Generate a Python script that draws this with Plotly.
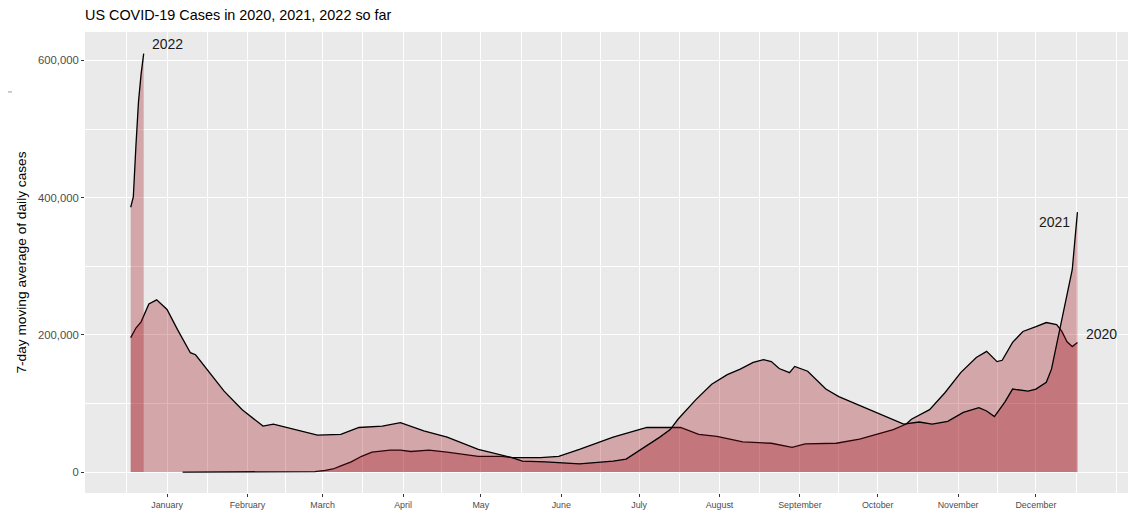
import plotly.graph_objects as go
import pandas as pd

# --- data (7-day moving average of daily cases) ---
# dates are month-day, plotted on a common 2020 calendar axis
dates_2020 = ["01-21", "02-15", "03-05", "03-12", "03-16", "03-19", "03-22", "03-26",
              "03-30", "04-03", "04-10", "04-14", "04-18", "04-25", "05-02", "05-14",
              "05-23", "05-27", "06-07", "06-14", "06-22", "07-05", "07-15", "07-18",
              "07-26", "07-31", "08-07", "08-14", "08-24", "09-04", "09-12", "09-17",
              "09-29", "10-08", "10-21", "10-26", "10-28", "11-04", "11-10", "11-16",
              "11-22", "11-26", "11-30", "12-02", "12-06", "12-10", "12-15", "12-19",
              "12-23", "12-25", "12-27", "12-29", "12-31"]
cases_2020 = [0, 0, 150, 800, 2500, 4500, 9000, 15000,
              23000, 29000, 32000, 32000, 30000, 32000, 29000, 23000,
              23000, 21000, 21000, 23000, 33000, 51000, 62000, 65000,
              65000, 65000, 55000, 52000, 44000, 42000, 36000, 41000,
              42000, 48000, 62000, 70000, 77000, 91000, 116000, 145000,
              167000, 176000, 161000, 163000, 189000, 205000, 212000, 218000,
              215000, 205000, 190000, 183000, 189000]

dates_2021 = ["01-01", "01-03", "01-05", "01-08", "01-11", "01-15", "01-19", "01-24",
              "01-26", "01-31", "02-06", "02-13", "02-21", "02-25", "03-01", "03-13",
              "03-22", "03-29", "04-07", "04-14", "04-23", "05-02", "05-14", "05-27",
              "05-31", "06-09", "06-22", "07-05", "07-10", "07-15", "07-23", "07-27",
              "07-30", "08-06", "08-12", "08-18", "08-23", "08-28", "09-01", "09-04",
              "09-07", "09-11", "09-13", "09-18", "09-25", "09-30", "10-09", "10-16",
              "10-25", "10-31", "11-05", "11-11", "11-17", "11-23", "11-26", "11-29",
              "12-03", "12-06", "12-12", "12-15", "12-19", "12-21", "12-24", "12-26",
              "12-29", "12-31"]
cases_2021 = [196000, 210000, 219000, 245000, 251000, 237000, 208000, 174000,
              171000, 147000, 118000, 91000, 67000, 70000, 65000, 54000,
              55000, 65000, 67000, 72000, 60000, 51000, 33000, 21000,
              16000, 15000, 12000, 16000, 19000, 31000, 51000, 62000,
              77000, 106000, 128000, 142000, 150000, 160000, 164000, 161000,
              151000, 145000, 154000, 147000, 121000, 110000, 96000, 84000,
              70000, 73000, 70000, 74000, 87000, 94000, 89000, 81000,
              102000, 121000, 118000, 121000, 131000, 150000, 203000, 237000,
              295000, 379000]

dates_2022 = ["01-01", "01-02", "01-03", "01-04", "01-05", "01-06"]
cases_2022 = [386000, 401000, 475000, 540000, 580000, 610000]

month_names = ["January", "February", "March", "April", "May", "June", "July",
               "August", "September", "October", "November", "December"]

FILL = "rgba(158,10,20,0.3)"

# the page body adds an 8px offset, so the figure is drawn slightly smaller
W, H = 1131, 504


def on_axis(md):
    return ["2020-" + d for d in md]


fig = go.Figure()
for name, d, v in [("2020", dates_2020, cases_2020),
                   ("2021", dates_2021, cases_2021),
                   ("2022", dates_2022, cases_2022)]:
    fig.add_trace(go.Scatter(x=on_axis(d), y=v, mode="lines", name=name,
                             fill="tozeroy", fillcolor=FILL,
                             line=dict(color="black", width=1.3)))

# month ticks sit mid-month, minor grid halfway between them
major = pd.to_datetime([f"2020-{m:02d}-15" for m in range(1, 13)])
ext = [pd.Timestamp("2019-12-15")] + list(major) + [pd.Timestamp("2021-01-15")]
minor = [ext[i] + (ext[i + 1] - ext[i]) / 2 for i in range(len(ext) - 1)]
minor.append(pd.Timestamp("2021-01-15"))

fig.update_xaxes(
    range=["2019-12-14 09:00", "2021-01-19 12:00"],
    tickvals=list(major), ticktext=month_names,
    ticks="outside", ticklen=3, tickcolor="#333333", tickwidth=1,
    tickfont=dict(size=8.9, color="#4D4D4D"),
    showgrid=True, gridcolor="white", gridwidth=1.2,
    minor=dict(tickvals=minor, showgrid=True, gridcolor="white", gridwidth=0.6, ticks=""),
    zeroline=False, showline=False, automargin=False,
)
fig.update_yaxes(
    range=[-30500, 641500],
    tickvals=[0, 200000, 400000, 600000],
    ticktext=["0", "200,000", "400,000", "600,000"],
    ticks="outside", ticklen=3, tickcolor="#333333", tickwidth=1,
    tickfont=dict(size=11.3, color="#4D4D4D"),
    showgrid=True, gridcolor="white", gridwidth=1.2,
    minor=dict(tickvals=[100000, 300000, 500000], showgrid=True,
               gridcolor="white", gridwidth=0.6, ticks=""),
    zeroline=False, showline=False, automargin=False,
    title=dict(text="7-day moving average of daily cases",
               font=dict(size=13.7, color="black"), standoff=8),
)

labels = [("2022", "2020-01-15", 624000),
          ("2021", "2020-12-22 02:00", 365000),
          ("2020", "2021-01-09 10:00", 202000)]
for txt, x, y in labels:
    fig.add_annotation(x=x, y=y, text=txt, showarrow=False,
                       font=dict(size=14, color="#1A1A1A"))

# stray mark at the left edge of the original image
fig.add_shape(type="line", xref="paper", yref="paper",
              x0=-0.081, x1=-0.070, y0=0.87, y1=0.87,
              line=dict(color="#9A9A9A", width=1))

fig.update_layout(
    width=W, height=H,
    margin=dict(l=77, r=11, t=24, b=19),
    paper_bgcolor="white", plot_bgcolor="#EAEAEA",
    showlegend=False,
    font=dict(family="Liberation Sans, Arial, sans-serif"),
    title=dict(text="US COVID-19 Cases in 2020, 2021, 2022 so far",
               x=77 / W, xanchor="left", y=1 - 2 / H, yanchor="top", pad=dict(t=0),
               font=dict(size=14.4, color="black")),
)

fig.write_html("out.html")
